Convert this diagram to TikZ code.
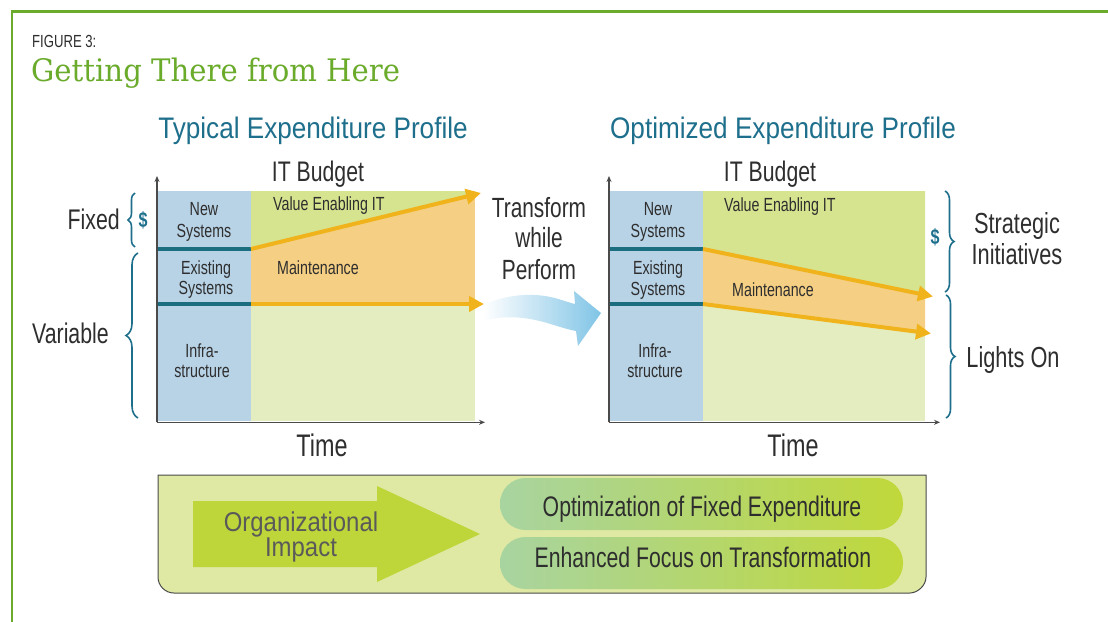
\documentclass[tikz,border=0pt]{standalone}
\usepackage{fontspec}
\setmainfont[FakeStretch=0.75]{Liberation Sans}
\newfontfamily\wideF[FakeStretch=0.88]{Liberation Sans}
\newfontfamily\ttlF[FakeStretch=0.94]{DejaVu Serif}
\usetikzlibrary{arrows.meta,decorations.pathreplacing}
\definecolor{frameG}{HTML}{6AAB2B}
\definecolor{tealH}{HTML}{1E6F8C}
\definecolor{tealL}{HTML}{1B6E80}
\definecolor{blueR}{HTML}{B8D2E6}
\definecolor{greenT}{HTML}{D6E38F}
\definecolor{orangeR}{HTML}{F5CF83}
\definecolor{greenB}{HTML}{E4EDBF}
\definecolor{orangeA}{HTML}{F0B31B}
\definecolor{axisC}{HTML}{4A4A4A}
\definecolor{txtC}{HTML}{2E2E2E}
\definecolor{boxF}{HTML}{DFE9A3}
\definecolor{arrF}{HTML}{BED63A}
\definecolor{pillL}{HTML}{A8D4A0}
\definecolor{pillR}{HTML}{C0D83A}
\definecolor{flowB}{HTML}{80C4E6}
\definecolor{orgT}{HTML}{5A5A5A}
\newcommand{\fsz}[1]{\fontsize{#1}{#1}\selectfont}
\begin{document}
\begin{tikzpicture}[x=1pt,y=-1pt,
  txt/.style={inner sep=0pt, anchor=base, text=txtC},
  lbl/.style={txt, font=\fsz{19}},
  big/.style={txt, font=\fsz{28.4}},
  head/.style={inner sep=0pt, anchor=base, text=tealH, font=\wideF\fsz{29.7}},
  dollar/.style={inner sep=0pt, anchor=base, text=tealH, font=\bfseries\fsz{21.5}},
  pilltxt/.style={txt, font=\fsz{28.3}},
  orgtxt/.style={inner sep=0pt, anchor=base, text=orgT, font=\wideF\fsz{27.2}},
  axisln/.style={draw=axisC, line width=1.2pt, -{Stealth[length=6pt,width=5pt]}},
  oarrow/.style={draw=orangeA, line width=4pt, -{Triangle[length=15pt,width=15pt]}},
  tline/.style={draw=tealL, line width=3.5pt},
  brc/.style={draw=tealH, line width=1.6pt, decorate},
  pill/.style={left color=pillL, right color=pillR, rounded corners=25.5pt}]
\useasboundingbox (0,0) rectangle (1108,621);
\fill[white] (0,0) rectangle (1108,621);
% frame
\draw[frameG, line width=2.8pt] (12,630) -- (12,11.3) -- (1115,11.3);
% title
\node[inner sep=0pt, anchor=base west, text=txtC, font=\fsz{17.5}] (fig) at (32,47) {FIGURE 3:};
\node[inner sep=0pt, anchor=base west, text=frameG, font=\ttlF\fsz{31}] (ttl) at (31,81.5) {Getting There from Here};
% headings
\node[head] (h1) at (313,138) {Typical Expenditure Profile};
\node[head] (h2) at (783,138) {Optimized Expenditure Profile};
\node[txt, font=\fsz{28.3}] (b1) at (318,181) {IT Budget};
\node[txt, font=\fsz{28.3}] (b2) at (770,181) {IT Budget};
\node[txt, font=\fsz{31.2}] (t1) at (322,456) {Time};
\node[txt, font=\fsz{31.2}] (t2) at (793,456) {Time};

% ---------- left chart ----------
\fill[blueR] (157,191) rectangle (251,421);
\fill[greenB] (251,191) rectangle (475,421);
\fill[orangeR] (251,191) rectangle (475,304);
\fill[greenT] (251,191) -- (475,191) -- (475,194.2) -- (251,249) -- cycle;
\coordinate (LtA) at (157,249); \coordinate (LtB) at (251,249);
\coordinate (LtC) at (157,304); \coordinate (LtD) at (251,304);
\draw[tline] (LtA) -- (LtB);
\draw[tline] (LtC) -- (LtD);
\coordinate (LuE) at (481,193);
\coordinate (LlE) at (484,304);
\draw[oarrow] (LtB) -- (LuE);
\draw[oarrow] (LtD) -- (LlE);
\coordinate (LO) at (157,422.3);
\coordinate (LY) at (157,176);
\coordinate (LX) at (485,422.3);
\draw[axisln] (LO) -- (LY);
\draw[axisln] (LO) -- (LX);
\node[lbl] (ln1) at (204,215) {New};
\node[lbl] (ln2) at (204,237) {Systems};
\node[lbl] (le1) at (206,274) {Existing};
\node[lbl] (le2) at (206,294) {Systems};
\node[lbl] (li1) at (202,357) {Infra-};
\node[lbl] (li2) at (202,377) {structure};
\node[lbl, anchor=base west] (lv) at (273,210) {Value Enabling IT};
\node[lbl, anchor=base west] (lm) at (277,274) {Maintenance};
% left braces
\node[txt, font=\fsz{28.4}, anchor=base east] (fx) at (120,229) {Fixed};
\node[dollar] (d1) at (143,227) {\$};
\node[txt, font=\fsz{28.4}, anchor=base west] (vr) at (32,343) {Variable};
\coordinate (FbT) at (135,193); \coordinate (FbB) at (135,247);
\coordinate (VbT) at (138,253); \coordinate (VbB) at (138,418);
\draw[brc, decoration={brace, amplitude=7pt}] (FbB) -- (FbT);
\draw[brc, decoration={brace, amplitude=12pt}] (VbB) -- (VbT);

% ---------- transform ----------
\node[txt, font=\fsz{27.8}] (tr1) at (539,217) {Transform};
\node[txt, font=\fsz{27.8}] (tr2) at (539,247.5) {while};
\node[txt, font=\fsz{27.8}] (tr3) at (539,279) {Perform};
\shade[left color=white, right color=flowB]
  (483,305) .. controls (503,296) and (525,293) .. (545,296)
  .. controls (558,298) and (566,302) .. (575,304)
  -- (574,291) -- (601,313) -- (578,346) -- (576,331)
  .. controls (560,328) and (548,322) .. (530,319)
  .. controls (512,316) and (497,317) .. (483,321) -- cycle;

% ---------- right chart ----------
\fill[blueR] (609,191) rectangle (703,421);
\fill[greenB] (703,191) rectangle (925,421);
\fill[greenT] (703,191) -- (925,191) -- (925,294.6) -- (703,249) -- cycle;
\fill[orangeR] (703,249) -- (925,294.6) -- (925,332.4) -- (703,304) -- cycle;
\coordinate (RtA) at (609,249); \coordinate (RtB) at (703,249);
\coordinate (RtC) at (609,304); \coordinate (RtD) at (703,304);
\draw[tline] (RtA) -- (RtB);
\draw[tline] (RtC) -- (RtD);
\coordinate (RuE) at (933,296.5);
\coordinate (RlE) at (931,333.5);
\draw[oarrow] (RtB) -- (RuE);
\draw[oarrow] (RtD) -- (RlE);
\coordinate (RO) at (609,422.3);
\coordinate (RY) at (609,176);
\coordinate (RX) at (940,422.3);
\draw[axisln] (RO) -- (RY);
\draw[axisln] (RO) -- (RX);
\node[lbl] (rn1) at (658,215) {New};
\node[lbl] (rn2) at (658,237) {Systems};
\node[lbl] (re1) at (658,274) {Existing};
\node[lbl] (re2) at (658,295) {Systems};
\node[lbl] (ri1) at (655,357) {Infra-};
\node[lbl] (ri2) at (655,377) {structure};
\node[lbl, anchor=base west] (rv) at (724,211) {Value Enabling IT};
\node[lbl, anchor=base west] (rm) at (732,296) {Maintenance};
% right braces
\node[dollar] (d2) at (935,244) {\$};
\coordinate (SbT) at (945,191); \coordinate (SbB) at (945,292);
\coordinate (LbT) at (946,295); \coordinate (LbB) at (946,418);
\draw[brc, decoration={brace, amplitude=9pt}] (SbT) -- (SbB);
\draw[brc, decoration={brace, amplitude=9pt}] (LbT) -- (LbB);
\node[txt, font=\fsz{29}] (st1) at (1017,233) {Strategic};
\node[txt, font=\fsz{29}] (st2) at (1017,264) {Initiatives};
\node[txt, font=\fsz{29}] (lo) at (1013,367) {Lights On};

% ---------- bottom box ----------
\draw[draw=axisC, fill=boxF, line width=1pt]
  (158,475) -- (926,475) -- (926,577)
  .. controls (926,585.8) and (917.2,593) .. (910,593)
  -- (174,593) .. controls (165.2,593) and (158,585.8) .. (158,577) -- cycle;
\fill[arrF] (193,501) -- (377,501) -- (377,486) -- (480,534) -- (377,582) -- (377,567) -- (193,567) -- cycle;
\node[orgtxt] (org1) at (301,531) {Organizational};
\node[orgtxt] (org2) at (301,556) {Impact};
\shade[pill] (500,478) rectangle (903,530);
\shade[pill] (500,537) rectangle (903,589);
\node[pilltxt] (p1) at (702,516) {Optimization of Fixed Expenditure};
\node[pilltxt] (p2) at (703,567) {Enhanced Focus on Transformation};
\end{tikzpicture}
\end{document}
